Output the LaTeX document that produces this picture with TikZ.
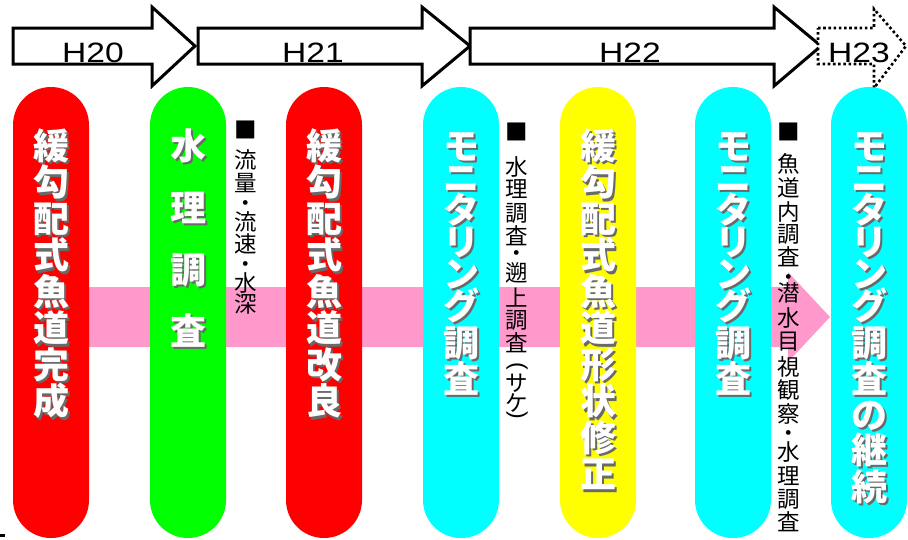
\documentclass[tikz,border=0pt]{standalone}
\usepackage{graphicx}
\usepackage{fontspec}
\setmainfont{Liberation Sans}
\newfontfamily\jp{Noto Sans CJK JP}
\definecolor{bandpink}{RGB}{255,153,204}
\definecolor{shadowgray}{RGB}{105,105,105}
\definecolor{pillred}{RGB}{255,0,0}
\definecolor{pillgreen}{RGB}{0,255,0}
\definecolor{pillcyan}{RGB}{0,255,255}
\definecolor{pillyellow}{RGB}{255,255,0}
\tikzset{
 yeararrow/.style={draw=black, line width=3pt, fill=white, line join=miter},
 dotarrow/.style={draw=black, line width=2.6pt, dash pattern=on 2.6pt off 2.6pt, fill=white},
 yearlabel/.style={font=\fontsize{28}{28}\selectfont, inner sep=0pt},
 pill/.style={rectangle, rounded corners=38pt, minimum width=76pt, minimum height=451pt, inner sep=0pt, draw=none},
 pillchar/.style={font=\jp\bfseries\fontsize{36}{36}\selectfont, text=white, inner sep=0pt, text height=31.2pt, text depth=4.3pt},
 notechar/.style={font=\jp\fontsize{22.5}{22.5}\selectfont, text=black, inner sep=0pt, text height=19.6pt, text depth=2.7pt},
 noteparen/.style={font=\fontsize{23}{23}\selectfont, text=black, inner sep=0pt, rotate=-90},
}
\newcommand\shadowglyph[1]{\rlap{\kern2.5pt\raisebox{-2.5pt}{\color{shadowgray}#1}}#1}
\newcommand\pilltext[3]{%
 \foreach \c/\yy [count=\i] in {#3} {
   \node[pillchar] (#1c\i) at (#2,\yy) {\shadowglyph{\c}};
 }}
\newcommand\notetext[3]{%
 \foreach \c/\yy [count=\i] in {#3} {
   \node[notechar] (#1c\i) at (#2,\yy) {\c};
 }}
\begin{document}
\begin{tikzpicture}[x=1pt,y=-1pt]
\useasboundingbox (0,0) rectangle (908,539);
% pink band arrow
\fill[bandpink] (51,287) -- (788,287) -- (788,272) -- (830,317) -- (788,362) -- (788,347) -- (51,347) -- cycle;
% year arrows
\draw[yeararrow] (13,28) -- (152,28) -- (152,7) -- (195,46) -- (152,86) -- (152,64) -- (13,64) -- cycle;
\draw[yeararrow] (198,28) -- (422,28) -- (422,7) -- (470,46) -- (422,86) -- (422,64) -- (198,64) -- cycle;
\draw[yeararrow] (470,28) -- (774,28) -- (774,7) -- (821,46) -- (774,86) -- (774,64) -- (470,64) -- cycle;
\draw[dotarrow] (818,28) -- (874,28) -- (874,9) -- (906,46) -- (874,88) -- (874,64) -- (818,64) -- cycle;
\node[yearlabel] (y20) at (93,53) {\scalebox{1.2}[1]{H20}};
\node[yearlabel] (y21) at (313,53) {\scalebox{1.2}[1]{H21}};
\node[yearlabel] (y22) at (630,53) {\scalebox{1.2}[1]{H22}};
\node[yearlabel] (y23) at (859,53) {\scalebox{1.2}[1]{H23}};
% pills
\node[pill, fill=pillred] (p1) at (51,312.5) {};
\node[pill, fill=pillgreen] (p2) at (188,312.5) {};
\node[pill, fill=pillred] (p3) at (324,312.5) {};
\node[pill, fill=pillcyan] (p4) at (461,312.5) {};
\node[pill, fill=pillyellow] (p5) at (598,312.5) {};
\node[pill, fill=pillcyan] (p6) at (733,312.5) {};
\node[pill, fill=pillcyan] (p7) at (869,312.5) {};
% pill texts
\pilltext{t1}{51}{緩/146, 勾/182.5, 配/219, 式/255.5, 魚/292, 道/328.5, 完/365, 成/401.5}
\pilltext{t2}{188}{水/146, 理/208, 調/270, 査/331}
\pilltext{t3}{324}{緩/146, 勾/182.5, 配/219, 式/255.5, 魚/292, 道/328.5, 改/365, 良/401.5}
\pilltext{t4}{461}{モ/146, ニ/178, タ/210, リ/242, ン/274, グ/306, 調/343, 査/379}
\pilltext{t5}{598}{緩/146, 勾/182.5, 配/219, 式/255.5, 魚/292, 道/328.5, 形/365, 状/401.5, 修/438, 正/474.5}
\pilltext{t6}{733}{モ/146, ニ/178, タ/210, リ/242, ン/274, グ/306, 調/343, 査/379}
\pilltext{t7}{869}{モ/146, ニ/178, タ/210, リ/242, ン/274, グ/306, 調/343, 査/379, の/415, 継/450, 続/487}
% notes
\notetext{n1}{246}{■/130, 流/160, 量/183, ・/203, 流/222, 速/244, ・/264, 水/283, 深/304}
\notetext{n2}{517}{■/132, 水/167, 理/189, 調/213, 査/236, ・/253, 遡/273, 上/298, 調/320, 査/343, サ/383, ケ/403}
\node[noteparen] (n2open) at (517,366) {(};
\node[noteparen] (n2close) at (517,415) {)};
\notetext{n3}{789}{■/132, 魚/164, 道/188, 内/212, 調/234, 査/257, ・/277, 潜/293, 水/318, 目/341, 視/367, 観/390, 察/414, ・/433, 水/452, 理/476, 調/499, 査/522}
% small mark bottom-left
\fill[black] (0,534) rectangle (5,537);
\end{tikzpicture}
\end{document}
